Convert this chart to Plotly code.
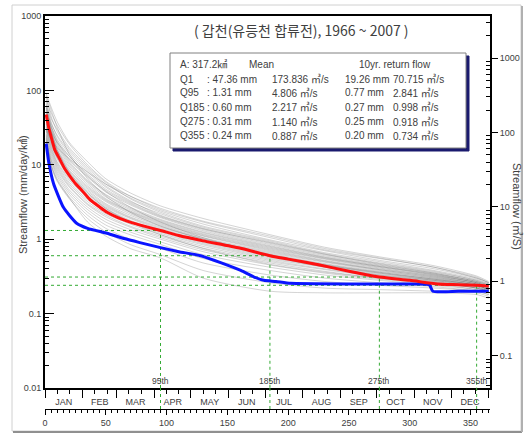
import plotly.graph_objects as go

# ---------------- data ----------------
KEY_DAYS = [1, 5, 10, 20, 35, 50, 70, 95, 130, 185, 230, 275, 320, 355, 365]

YEAR_CURVES = [
    [90, 60, 38, 20, 11, 6.5, 4.2, 2.8, 1.9, 1.15, 0.78, 0.58, 0.44, 0.32, 0.27],
    [75, 50, 34, 19, 10, 6.0, 3.8, 2.5, 1.7, 1.05, 0.72, 0.55, 0.42, 0.30, 0.26],
    [82, 45, 28, 16, 9.0, 5.5, 3.6, 2.4, 1.6, 0.98, 0.70, 0.52, 0.40, 0.30, 0.26],
    [65, 42, 30, 17, 9.5, 5.8, 3.5, 2.3, 1.5, 0.95, 0.66, 0.50, 0.38, 0.29, 0.25],
    [70, 38, 24, 14, 8.0, 5.0, 3.2, 2.2, 1.45, 0.92, 0.64, 0.48, 0.37, 0.28, 0.25],
    [58, 36, 25, 15, 8.5, 5.2, 3.3, 2.1, 1.4, 0.88, 0.62, 0.47, 0.36, 0.28, 0.24],
    [62, 34, 21, 12, 7.0, 4.5, 3.0, 2.0, 1.35, 0.85, 0.60, 0.45, 0.35, 0.27, 0.24],
    [55, 33, 22, 13, 7.5, 4.7, 3.1, 2.05, 1.38, 0.90, 0.63, 0.46, 0.35, 0.27, 0.24],
    [50, 30, 20, 11.5, 6.8, 4.3, 2.9, 1.95, 1.3, 0.82, 0.58, 0.44, 0.34, 0.27, 0.23],
    [48, 32, 19, 11, 6.2, 4.0, 2.7, 1.85, 1.25, 0.80, 0.57, 0.43, 0.34, 0.26, 0.23],
    [52, 28, 18, 10.5, 6.0, 3.9, 2.6, 1.8, 1.22, 0.78, 0.56, 0.43, 0.33, 0.26, 0.23],
    [45, 27, 17, 10, 5.8, 3.7, 2.5, 1.75, 1.18, 0.76, 0.55, 0.42, 0.33, 0.26, 0.23],
    [44, 26, 16, 9.5, 5.5, 3.5, 2.4, 1.7, 1.15, 0.74, 0.54, 0.41, 0.32, 0.26, 0.22],
    [40, 25, 15.5, 9.0, 5.2, 3.4, 2.35, 1.65, 1.12, 0.72, 0.52, 0.40, 0.32, 0.25, 0.22],
    [42, 24, 15, 8.5, 5.0, 3.3, 2.3, 1.6, 1.1, 0.70, 0.51, 0.39, 0.31, 0.25, 0.22],
    [38, 23, 14, 8.2, 4.8, 3.2, 2.2, 1.55, 1.05, 0.68, 0.50, 0.39, 0.31, 0.25, 0.22],
    [36, 22, 13.5, 7.8, 4.6, 3.0, 2.1, 1.5, 1.02, 0.66, 0.49, 0.38, 0.30, 0.25, 0.22],
    [35, 21, 13, 7.5, 4.4, 2.9, 2.0, 1.45, 1.0, 0.64, 0.47, 0.37, 0.30, 0.24, 0.21],
    [33, 20, 12.5, 7.2, 4.2, 2.8, 1.95, 1.4, 0.96, 0.62, 0.46, 0.36, 0.29, 0.24, 0.21],
    [32, 19, 12, 6.8, 4.0, 2.7, 1.9, 1.35, 0.93, 0.60, 0.45, 0.35, 0.29, 0.24, 0.21],
    [30, 18, 11, 6.5, 3.8, 2.6, 1.8, 1.3, 0.90, 0.58, 0.44, 0.35, 0.28, 0.23, 0.21],
    [29, 17, 10.5, 6.2, 3.6, 2.5, 1.75, 1.25, 0.87, 0.56, 0.43, 0.34, 0.28, 0.23, 0.20],
    [28, 16, 10, 5.8, 3.4, 2.4, 1.7, 1.2, 0.84, 0.54, 0.42, 0.33, 0.27, 0.23, 0.20],
    [26, 15, 9.5, 5.5, 3.2, 2.2, 1.6, 1.15, 0.80, 0.52, 0.40, 0.32, 0.27, 0.22, 0.20],
    [25, 14, 9.0, 5.2, 3.0, 2.1, 1.5, 1.1, 0.76, 0.50, 0.39, 0.31, 0.26, 0.22, 0.20],
    [24, 13, 8.5, 5.0, 2.9, 2.0, 1.45, 1.05, 0.72, 0.48, 0.37, 0.30, 0.26, 0.22, 0.19],
    [22, 12, 8.0, 4.6, 2.7, 1.85, 1.35, 1.0, 0.68, 0.45, 0.35, 0.29, 0.25, 0.21, 0.19],
    [21, 11.5, 7.5, 4.3, 2.5, 1.7, 1.25, 0.92, 0.62, 0.42, 0.33, 0.28, 0.24, 0.21, 0.19],
    [20, 11, 7.0, 4.0, 2.3, 1.55, 1.15, 0.85, 0.55, 0.38, 0.30, 0.26, 0.23, 0.20, 0.18],
    [19, 10, 6.5, 3.7, 2.1, 1.4, 1.0, 0.75, 0.48, 0.33, 0.27, 0.24, 0.22, 0.20, 0.18],
    [18, 9.5, 6.0, 3.5, 1.9, 1.25, 0.85, 0.62, 0.38, 0.26, 0.22, 0.21, 0.20, 0.19, 0.17],
    [23, 10, 6.2, 3.6, 1.7, 1.1, 0.75, 0.56, 0.30, 0.20, 0.19, 0.19, 0.19, 0.18, 0.16],
    [85, 55, 32, 14, 6.5, 3.8, 2.3, 1.5, 1.0, 0.62, 0.45, 0.36, 0.29, 0.24, 0.21],
    [30, 22, 17, 12, 8.0, 5.5, 3.8, 2.6, 1.75, 1.1, 0.75, 0.56, 0.42, 0.31, 0.26],
    [60, 30, 16, 8.0, 4.2, 2.6, 1.7, 1.15, 0.75, 0.46, 0.36, 0.30, 0.26, 0.22, 0.20],
    [40, 28, 20, 13, 7.2, 4.4, 2.7, 1.7, 1.05, 0.60, 0.42, 0.33, 0.28, 0.24, 0.21],
]

MEAN_DAYS = [1, 3, 5, 8, 12, 16, 20, 25, 30, 37, 45, 51, 60, 70, 80, 95, 110, 130,
             160, 185, 200, 226, 250, 275, 300, 323, 340, 355, 365]
MEAN_VALS = [47.36, 32, 24, 16, 12, 9.0, 7.2, 5.6, 4.6, 3.4, 2.7, 2.3, 1.95, 1.7, 1.52,
             1.31, 1.12, 0.95, 0.76, 0.60, 0.54, 0.45, 0.37, 0.31, 0.28, 0.25, 0.245,
             0.24, 0.235]

LOW10_DAYS = [1, 3, 7, 11, 15, 20, 26, 35, 51, 65, 78, 95, 110, 128, 145, 161, 172,
              180, 190, 202, 250, 300, 316, 319, 340, 365]
LOW10_VALS = [19.26, 11, 5.6, 3.8, 2.7, 2.1, 1.64, 1.4, 1.2, 1.02, 0.9, 0.77, 0.68, 0.6,
              0.48, 0.38, 0.31, 0.28, 0.27, 0.255, 0.25, 0.25, 0.245, 0.20, 0.20, 0.20]

Q_DAYS = [95, 185, 275, 355]
Q_MEAN = [1.31, 0.60, 0.31, 0.24]
Q_LABELS = ["95th", "185th", "275th", "355th"]

AREA_KM2 = 317.2
MM_TO_CMS = AREA_KM2 / 86.4

MONTHS = ["JAN", "FEB", "MAR", "APR", "MAY", "JUN", "JUL", "AUG", "SEP", "OCT", "NOV", "DEC"]
MONTH_START = [0, 31, 59, 90, 120, 151, 181, 212, 243, 273, 304, 334, 365]

TITLE = "( 갑천(유등천 합류전), 1966 ~ 2007 )"
Y_TITLE_LEFT = "Streamflow (mm/day/㎢)"
Y_TITLE_RIGHT = "Streamflow (㎥/S)"
TABLE_ROWS = [
    ["A: 317.2㎢", "Mean", "", "10yr. return flow", ""],
    ["Q1", ": 47.36 mm", "173.836 ㎥/s", "19.26 mm", "70.715 ㎥/s"],
    ["Q95", ": 1.31 mm", "4.806 ㎥/s", "0.77 mm", "2.841 ㎥/s"],
    ["Q185", ": 0.60 mm", "2.217 ㎥/s", "0.27 mm", "0.998 ㎥/s"],
    ["Q275", ": 0.31 mm", "1.140 ㎥/s", "0.25 mm", "0.918 ㎥/s"],
    ["Q355", ": 0.24 mm", "0.887 ㎥/s", "0.20 mm", "0.734 ㎥/s"],
]

# ---------------- layout geometry (pixels) ----------------
W, H = 531, 434
ML, MR, MT, MB = 45, 41, 16, 8
PLOT_BOTTOM_PX = 388
DAY_AXIS_PX = 409


def px2x(px):
    return (px - ML) / (W - ML - MR)


def px2y(py):
    return (H - MB - py) / (H - MT - MB)


YDOM0 = px2y(PLOT_BOTTOM_PX)
FONT = "Liberation Sans, Arial, sans-serif"
KFONT = "Liberation Sans, Noto Sans CJK KR, sans-serif"
CJK = "Noto Sans CJK KR, sans-serif"
TXT = "#404040"

fig = go.Figure()

for vals in YEAR_CURVES:
    fig.add_trace(go.Scatter(x=KEY_DAYS, y=vals, mode="lines",
                             line=dict(color="rgba(90,90,90,0.26)", width=1, shape="spline",
                                       smoothing=0.7),
                             showlegend=False, hoverinfo="skip"))

# green reference lines (inside plot)
for d, q in zip(Q_DAYS, Q_MEAN):
    fig.add_trace(go.Scatter(x=[0, d, d], y=[q, q, 0.01], mode="lines",
                             line=dict(color="#33aa33", width=1, dash="dot"),
                             showlegend=False, hoverinfo="skip"))

fig.add_trace(go.Scatter(x=LOW10_DAYS, y=LOW10_VALS, mode="lines",
                         line=dict(color="#0a14ff", width=3, shape="spline", smoothing=0.5),
                         showlegend=False))
fig.add_trace(go.Scatter(x=MEAN_DAYS, y=MEAN_VALS, mode="lines",
                         line=dict(color="#ff1010", width=3, shape="spline", smoothing=0.6),
                         showlegend=False))

# dummy traces so the extra axes render
fig.add_trace(go.Scatter(x=[None], y=[None], xaxis="x2", yaxis="y", showlegend=False))
fig.add_trace(go.Scatter(x=[None], y=[None], xaxis="x3", yaxis="y", showlegend=False))
fig.add_trace(go.Scatter(x=[None], y=[None], xaxis="x", yaxis="y2", showlegend=False))

shapes = []
# extension of vertical green lines through the month axis
for d in Q_DAYS:
    shapes.append(dict(type="line", xref="x", yref="paper", x0=d, x1=d,
                       y0=px2y(DAY_AXIS_PX), y1=YDOM0,
                       line=dict(color="#33aa33", width=1, dash="dot")))
# outer frame
shapes.append(dict(type="rect", xref="paper", yref="paper", layer="below",
                   x0=px2x(12), x1=px2x(521), y0=px2y(431), y1=px2y(5),
                   line=dict(color="#d0d0d0", width=1)))
shapes.append(dict(type="line", xref="paper", yref="paper",
                   x0=px2x(13), x1=px2x(522), y0=px2y(432), y1=px2y(432),
                   line=dict(color="#909090", width=2)))
shapes.append(dict(type="line", xref="paper", yref="paper",
                   x0=px2x(522), x1=px2x(522), y0=px2y(432), y1=px2y(6),
                   line=dict(color="#b0b0b0", width=2)))
# info box with shadow
shapes.append(dict(type="rect", xref="paper", yref="paper",
                   x0=px2x(173), x1=px2x(469), y0=px2y(151), y1=px2y(56),
                   line=dict(color="#1a1a6e", width=1), fillcolor="#1a1a6e"))
shapes.append(dict(type="rect", xref="paper", yref="paper",
                   x0=px2x(170), x1=px2x(466), y0=px2y(148), y1=px2y(53),
                   line=dict(color="#808080", width=1), fillcolor="white"))

annotations = []
annotations.append(dict(text=TITLE, xref="paper", yref="paper", x=px2x(301), y=px2y(30),
                        xanchor="center", yanchor="middle",
                        showarrow=False, font=dict(family=CJK, size=14, color=TXT)))
annotations.append(dict(text=Y_TITLE_LEFT, xref="paper", yref="paper", x=px2x(23),
                        y=px2y(195), xanchor="center", yanchor="middle",
                        textangle=-90, showarrow=False,
                        font=dict(family=KFONT, size=11, color=TXT)))
annotations.append(dict(text=Y_TITLE_RIGHT, xref="paper", yref="paper", x=px2x(517),
                        y=px2y(206), xanchor="center", yanchor="middle",
                        textangle=90, showarrow=False,
                        font=dict(family=KFONT, size=11, color=TXT)))
for d, lab in zip(Q_DAYS, Q_LABELS):
    annotations.append(dict(text=lab, xref="x", yref="paper", x=d, y=YDOM0,
                            xanchor="center", yanchor="bottom", showarrow=False,
                            font=dict(family=FONT, size=8.5, color=TXT)))

COL_X = [178, 205, 270, 343, 391]
HEADER_X = [178, 247, None, 357, None]
ROW_Y = [64, 79, 93, 107.5, 121.5, 135.5]
for r, row in enumerate(TABLE_ROWS):
    for c, cell in enumerate(row):
        if not cell:
            continue
        xpx = HEADER_X[c] if r == 0 else COL_X[c]
        annotations.append(dict(text=cell, xref="paper", yref="paper", x=px2x(xpx),
                                y=px2y(ROW_Y[r]), xanchor="left", yanchor="middle",
                                showarrow=False,
                                font=dict(family=KFONT, size=10, color=TXT)))

log_minor = [m * 10 ** e for e in range(-2, 4) for m in range(2, 10)]
month_mid = [(MONTH_START[i] + MONTH_START[i + 1]) / 2 for i in range(12)]
dekads = [s + k for s in MONTH_START[:-1] for k in (10, 20)]

fig.update_layout(
    width=W, height=H, autosize=False,
    margin=dict(l=ML, r=MR, t=MT, b=MB, autoexpand=False),
    paper_bgcolor="white", plot_bgcolor="white",
    shapes=shapes, annotations=annotations,
    xaxis=dict(range=[0, 366], domain=[0, 1], anchor="y", showgrid=False, zeroline=False,
               automargin=False,
               showline=True, linecolor="black", linewidth=2, mirror=True,
               tickmode="array", tickvals=MONTH_START, showticklabels=False,
               ticks="outside", ticklen=8, tickwidth=1, tickcolor="black",
               minor=dict(tickmode="array", tickvals=dekads, ticks="outside", ticklen=4,
                          tickcolor="black", showgrid=False)),
    xaxis2=dict(range=[0, 366], overlaying="x", anchor="y", side="bottom", showgrid=False,
                automargin=False,
                zeroline=False, showline=False, tickmode="array", tickvals=month_mid,
                ticktext=MONTHS, ticks="outside", ticklen=5, tickcolor="rgba(0,0,0,0)",
                tickfont=dict(family=FONT, size=9, color=TXT)),
    xaxis3=dict(range=[0, 366], overlaying="x", anchor="free", position=px2y(DAY_AXIS_PX),
                automargin=False,
                side="bottom", showgrid=False, zeroline=False, showline=True,
                linecolor="black", linewidth=1, tickmode="linear", tick0=0, dtick=50,
                ticks="outside", ticklen=5, tickcolor="black",
                minor=dict(dtick=5, tick0=0, ticks="outside", ticklen=3, tickcolor="black"),
                tickfont=dict(family=FONT, size=9, color=TXT)),
    yaxis=dict(type="log", range=[-2, 3], domain=[YDOM0, 1], anchor="x", showgrid=False,
               automargin=False,
               zeroline=False, showline=True, linecolor="black", linewidth=2,
               tickmode="array", tickvals=[0.01, 0.1, 1, 10, 100, 1000],
               ticktext=["0.01", "0.1", "1", "10", "100", "1000"],
               ticks="inside", ticklen=9, tickcolor="black",
               minor=dict(tickmode="array", tickvals=log_minor, ticks="inside", ticklen=4,
                          tickcolor="black", showgrid=False),
               tickfont=dict(family=FONT, size=9, color=TXT)),
    yaxis2=dict(type="log", overlaying="y", side="right", anchor="x",
                automargin=False,
                range=[-2 + 0.5647, 3 + 0.5647], showgrid=False, zeroline=False,
                showline=True, linecolor="black", linewidth=2,
                tickmode="array", tickvals=[0.1, 1, 10, 100, 1000],
                ticktext=["0.1", "1", "10", "100", "1000"],
                ticks="outside", ticklen=6, tickcolor="black",
                minor=dict(tickmode="array", tickvals=log_minor, ticks="inside", ticklen=4,
                           tickcolor="black", showgrid=False),
                tickfont=dict(family=FONT, size=9, color=TXT)),
)

fig.write_html("out.html")
